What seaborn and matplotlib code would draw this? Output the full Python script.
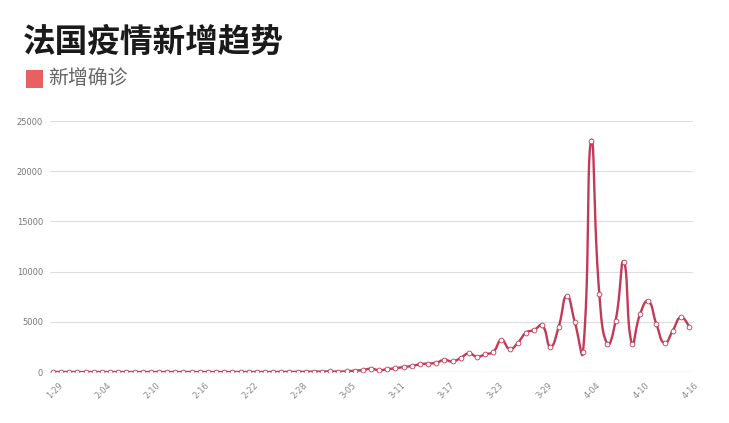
import numpy as np
import pandas as pd
import matplotlib
matplotlib.use("Agg")
import matplotlib.pyplot as plt
import seaborn as sns
from matplotlib.patches import Rectangle
from matplotlib import transforms

# ---------------- data ----------------
title = "法国疫情新增趋势"
series_name = "新增确诊"

# daily dates 1-29 .. 4-16 (2020)
dates = pd.date_range("2020-01-29", "2020-04-16", freq="D")
date_labels = [f"{d.month}-{d.day:02d}" for d in dates]

jan_feb = [0, 0, 1,
           0, 0, 0, 0, 0, 0, 0, 5, 0, 0, 0, 0, 0, 0, 0, 1,
           0, 0, 0, 0, 0, 0, 0, 0, 0, 0, 6, 20, 19]
march = [43, 30, 61, 21, 73, 138, 190, 336, 177, 286, 372, 497, 595, 785,
         838, 924, 1210, 1050, 1404, 1860, 1530, 1760, 2020, 3190, 2300,
         2900, 3920, 4180, 4650, 2520, 4450]
april = [7600, 4950, 1960, 23040, 7770, 2790, 5110, 10990, 2790, 5780,
         7070, 4780, 2860, 4110, 5450, 4510]
values = jan_feb + march + april

yticks = [0, 5000, 10000, 15000, 20000, 25000]
tick_every = 6

# ---------------- style ----------------
sns.set_theme(style="white")
plt.rcParams["font.family"] = ["Noto Sans CJK SC", "DejaVu Sans"]

W, H = 729, 423
fig = plt.figure(figsize=(W / 100, H / 100), dpi=100)
ax_l, ax_r, ax_b, ax_t = 50, 693, 372, 121
ax = fig.add_axes([ax_l / W, 1 - ax_b / H, (ax_r - ax_l) / W, (ax_b - ax_t) / H])

n = len(values)
x = np.arange(n, dtype=float)
y = np.array(values, dtype=float)

first_px, last_px = 53, 689
sx = (last_px - first_px) / (n - 1)
xlim = (-(first_px - ax_l) / sx, (n - 1) + (ax_r - last_px) / sx)
ylim = (0, 25000)
sy = (ax_b - ax_t) / (ylim[1] - ylim[0])

# ECharts-style smoothed bezier (smooth = 0.5) computed in pixel space
P = np.column_stack([x * sx, y * sy])
smooth = 0.5
cps = []
for i in range(n):
    p = P[i]
    if i == 0 or i == n - 1:
        cps.append((p.copy(), p.copy()))
        continue
    prv, nxt = P[i - 1], P[i + 1]
    v = (nxt - prv) * smooth
    d0 = np.linalg.norm(p - prv)
    d1 = np.linalg.norm(p - nxt)
    s = d0 + d1
    if s != 0:
        d0 /= s
        d1 /= s
    cps.append((p - v * d0, p + v * d1))

curve = []
t = np.linspace(0, 1, 24)[:, None]
for i in range(n - 1):
    p0 = P[i]
    c1 = cps[i][1]
    c2 = cps[i + 1][0]
    p3 = P[i + 1]
    seg = ((1 - t) ** 3) * p0 + 3 * ((1 - t) ** 2) * t * c1 + 3 * (1 - t) * t ** 2 * c2 + t ** 3 * p3
    if i > 0:
        seg = seg[1:]
    curve.append(seg)
curve = np.vstack(curve)
curve_df = pd.DataFrame({"x": curve[:, 0] / sx, "y": curve[:, 1] / sy})
pts_df = pd.DataFrame({"x": x, "y": y})

line_color = "#c23a55"
for yt in yticks[1:]:
    ax.axhline(yt, color="#dedede", lw=0.8, zorder=0)
ax.axhline(0, color="#c8c8c8", lw=0.9, zorder=0)

sns.lineplot(data=curve_df, x="x", y="y", sort=False, estimator=None,
             color=line_color, lw=1.7, ax=ax, zorder=2)
sns.scatterplot(data=pts_df, x="x", y="y", s=12, facecolor="white",
                edgecolor=line_color, linewidth=0.6, ax=ax, zorder=3)

ax.set_xlim(*xlim)
ax.set_ylim(*ylim)
for sp in ax.spines.values():
    sp.set_visible(False)
ax.set_xlabel("")
ax.set_ylabel("")

ax.set_yticks(yticks)
ax.set_yticklabels([str(v) for v in yticks], fontsize=6, color="#777777",
                   family=["DejaVu Sans"])
ax.tick_params(axis="y", length=0, pad=5)

xt = list(range(0, n, tick_every))
ax.set_xticks(xt)
ax.set_xticklabels([date_labels[i] for i in xt], fontsize=6, color="#888888",
                   rotation=45, ha="right", rotation_mode="anchor",
                   family=["DejaVu Sans"])
ax.tick_params(axis="x", length=0, pad=6)
offset = transforms.ScaledTranslation(5 / 100, 0, fig.dpi_scale_trans)
for lbl in ax.get_xticklabels():
    lbl.set_transform(lbl.get_transform() + offset)

# title and legend
fig.text(23 / W, 1 - 42 / H, title, fontsize=23.5, fontweight="bold",
         color="#1a1a1a", va="center", ha="left")
fig.patches.append(Rectangle((26 / W, 1 - 88 / H), 17 / W, 18 / H,
                             transform=fig.transFigure, facecolor="#e8605f",
                             edgecolor="none"))
fig.text(48 / W, 1 - 79 / H, series_name, fontsize=14.3, color="#666666",
         va="center", ha="left")

fig.savefig("out.png", dpi=100)
